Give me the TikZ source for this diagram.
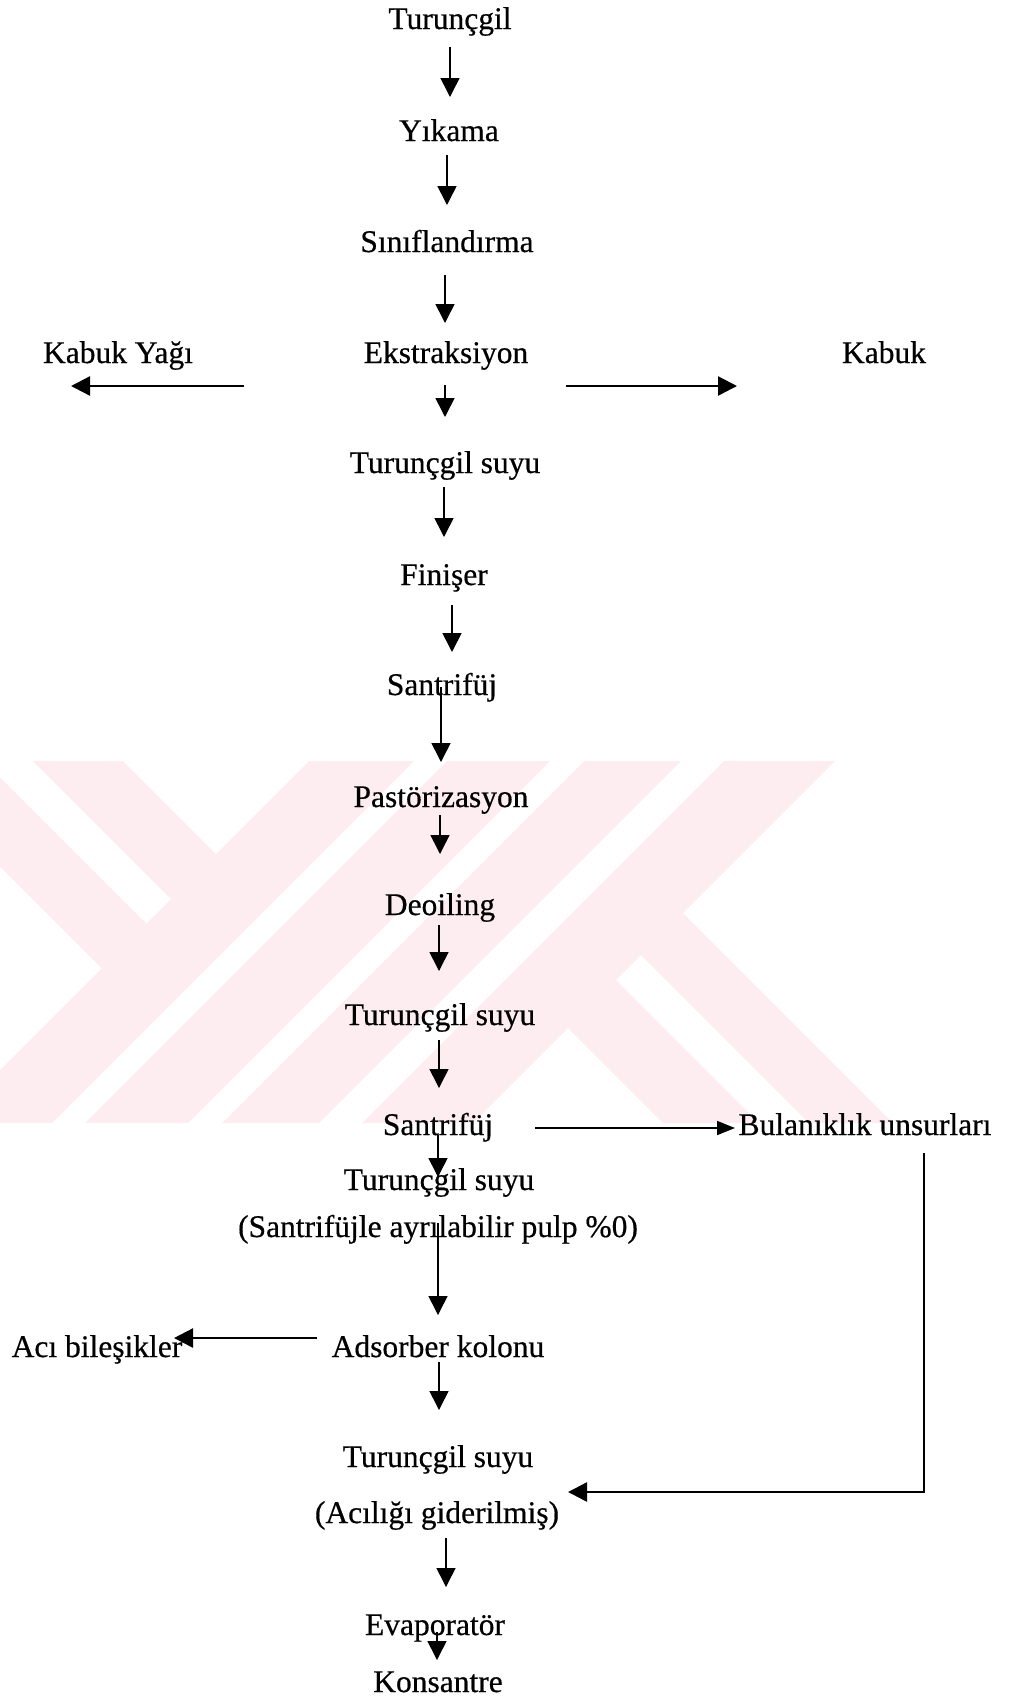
\documentclass[tikz,border=0pt]{standalone}
\usepackage{fontspec}
\setmainfont{Liberation Serif}
\newfontfamily\lblfont{Liberation Serif}[FakeBold=0.5]
\usetikzlibrary{arrows.meta,calc}
\definecolor{wm}{RGB}{253,237,241}
\begin{document}
\begin{tikzpicture}[x=0.5pt,y=-0.5pt,
  lbl/.style={inner sep=0pt, anchor=base, font=\lblfont\fontsize{15.75pt}{18pt}\selectfont},
  arr/.style={-{Triangle[width=9.5pt,length=9.5pt]}, line width=0.8pt},
  harr/.style={-{Triangle[width=9.5pt,length=9.5pt]}, line width=1.2pt},
  narr/.style={-{Triangle[width=7pt,length=9pt]}, line width=0.9pt},
  ]
\useasboundingbox (0,0) rectangle (1012,1699);
% ---- watermark ----
\begin{scope}
 \clip (0,761) -- (309,761) -- (0,1070) -- cycle;
 \fill[wm] (-166.7,700) -- (-77,700) -- (423,1200) -- (333.3,1200) -- cycle;
 \fill[wm] (-28,700) -- (62,700) -- (562,1200) -- (472,1200) -- cycle;
\end{scope}
\begin{scope}
 \clip (309,761) -- (835,761) -- (473,1123) -- (0,1123) -- (0,1070) -- cycle;
 \fill[wm] (370,700) -- (475,700) -- (-25,1200) -- (-130,1200) -- cycle;
 \fill[wm] (508,700) -- (611,700) -- (111,1200) -- (8,1200) -- cycle;
 \fill[wm] (645,700) -- (742,700) -- (242,1200) -- (145,1200) -- cycle;
 \fill[wm] (785,700) -- (896,700) -- (396,1200) -- (285,1200) -- cycle;
\end{scope}
\begin{scope}
 \clip (835,761) -- (1012,761) -- (1012,1123) -- (473,1123) -- cycle;
 \fill[wm] (240,700) -- (336,700) -- (836,1200) -- (740,1200) -- cycle;
 \fill[wm] (386,700) -- (470,700) -- (970,1200) -- (886,1200) -- cycle;
\end{scope}
% ---- nodes ----
\node[lbl] (t1)  at (450,29)   {Turunçgil};
\node[lbl] (t2)  at (449,141)  {Yıkama};
\node[lbl] (t3)  at (447,252)  {Sınıflandırma};
\node[lbl] (t4)  at (446,363)  {Ekstraksiyon};
\node[lbl] (kY)  at (118,363)  {Kabuk Yağı};
\node[lbl] (kb)  at (884,363)  {Kabuk};
\node[lbl] (t5)  at (445,473)  {Turunçgil suyu};
\node[lbl] (t6)  at (444,585)  {Finişer};
\node[lbl] (t7)  at (442,695)  {Santrifüj};
\node[lbl] (t8)  at (441,807)  {Pastörizasyon};
\node[lbl] (t9)  at (440,915)  {Deoiling};
\node[lbl] (t10) at (440,1025) {Turunçgil suyu};
\node[lbl] (t11) at (438,1135) {Santrifüj};
\node[lbl] (bu)  at (865,1135) {Bulanıklık unsurları};
\node[lbl] (t12) at (439,1190) {Turunçgil suyu};
\node[lbl] (t13) at (438,1237) {(Santrifüjle ayrılabilir pulp \%0)};
\node[lbl] (ad)  at (438,1357) {Adsorber kolonu};
\node[lbl] (ac)  at (97,1357)  {Acı bileşikler};
\node[lbl] (t14) at (438,1467) {Turunçgil suyu};
\node[lbl] (t15) at (437,1523) {(Acılığı giderilmiş)};
\node[lbl] (ev)  at (435,1635) {Evaporatör};
\node[lbl] (ko)  at (438,1692) {Konsantre};
% ---- connectors ----
\draw[arr] ($(t1.base)+(0,18)$) -- ($(t2.base)+(1,-44)$);
\draw[arr] ($(t2.base)+(-2,14)$) -- ($(t3.base)+(0,-47)$);
\draw[arr] ($(t3.base)+(-2,23)$) -- ($(t4.base)+(-1,-40)$);
\draw[arr] ($(t4.base)+(-1,22)$) -- ($(t5.base)+(0,-56)$);
\draw[harr] ($(t4.base)+(-202,23)$) -- ($(kY.base)+(-47,23)$);
\draw[harr] ($(t4.base)+(120,23)$) -- ($(kb.base)+(-147,23)$);
\draw[arr] ($(t5.base)+(-1,14)$) -- ($(t6.base)+(0,-48)$);
\draw[arr] ($(t6.base)+(8,20)$) -- ($(t7.base)+(10,-43)$);
\draw[arr] ($(t7.base)+(-1,-8)$) -- ($(t8.base)+(0,-45)$);
\draw[arr] ($(t8.base)+(-1,8)$) -- ($(t9.base)+(0,-61)$);
\draw[arr] ($(t9.base)+(-1,10)$) -- ($(t10.base)+(-1,-54)$);
\draw[arr] ($(t10.base)+(-1,15)$) -- ($(t11.base)+(1,-47)$);
\draw[arr] ($(t11.base)+(0,0)$) -- ($(t12.base)+(-1,-13)$);
\draw[narr] ($(t11.base)+(97,-7)$) -- ($(bu.base)+(-130,-7)$);
\draw[arr] ($(t13.base)+(0,-14)$) -- ($(ad.base)+(0,-42)$);
\draw[harr] ($(ad.base)+(-121,-19)$) -- ($(ac.base)+(77,-19)$);
\draw[arr] ($(ad.base)+(1,5)$) -- ($(t14.base)+(1,-57)$);
\draw[harr] ($(bu.base)+(59,18)$) |- ($(t14.base)+(130,25)$);
\draw[arr] ($(t15.base)+(9,15)$) -- ($(ev.base)+(11,-48)$);
\draw[arr] ($(ev.base)+(2,-3)$) -- ($(ko.base)+(-1,-32)$);
\end{tikzpicture}
\end{document}
